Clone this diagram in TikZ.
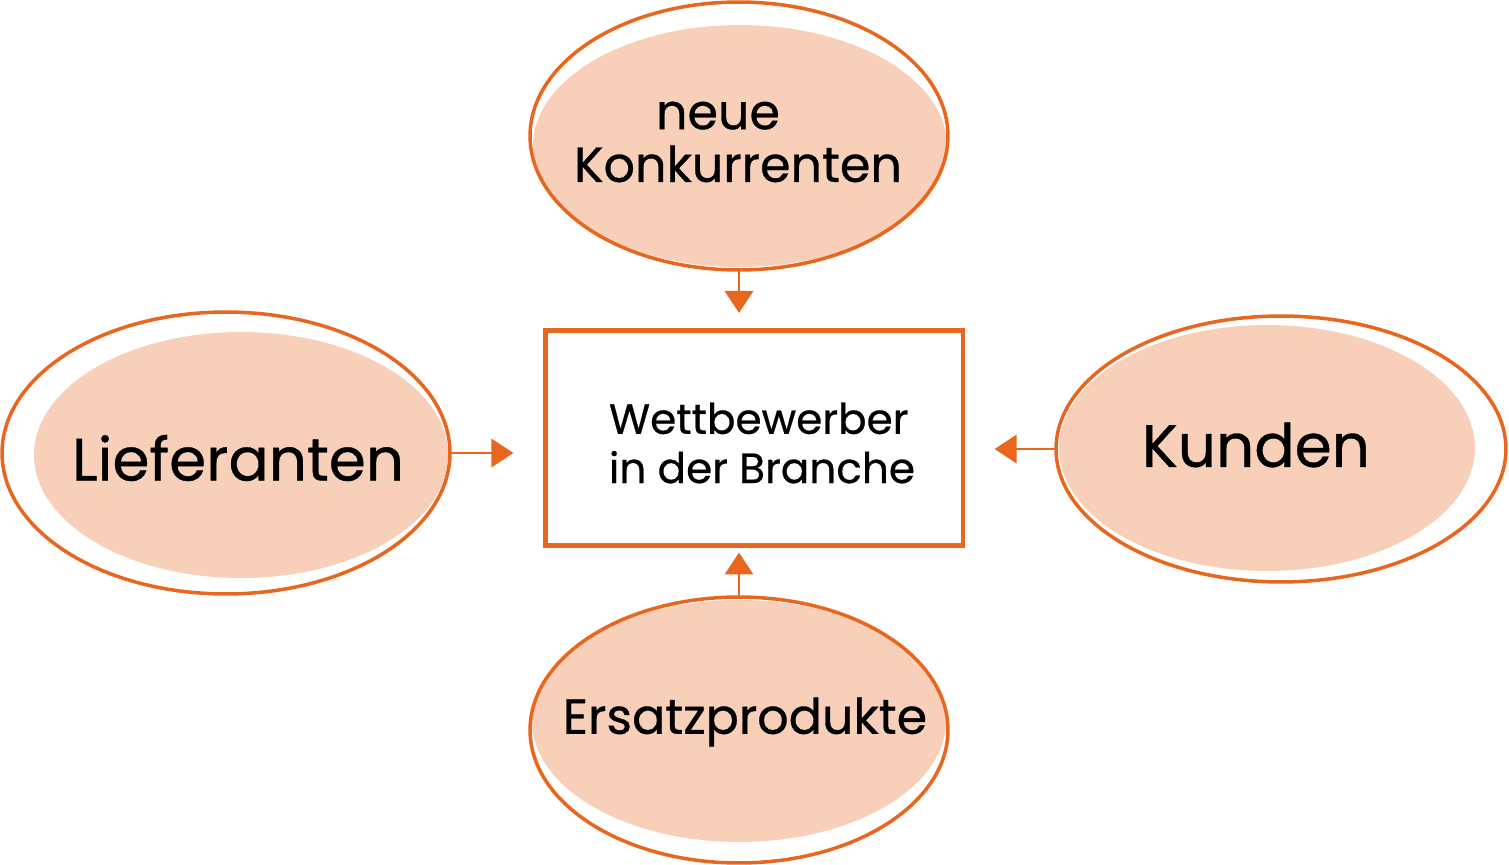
\documentclass[tikz,border=0pt]{standalone}
\usepackage{fontspec}
\setmainfont{Poppins}[FakeBold=0.6]
\usepackage{xcolor}
\usetikzlibrary{arrows.meta,shapes.geometric}
\definecolor{porange}{HTML}{E9661F}
\definecolor{ppeach}{HTML}{F8D0B9}

\begin{document}
\begin{tikzpicture}[x=0.02cm,y=-0.02cm,
  force/.style={ellipse,draw=porange,line width=2pt,inner sep=0pt,outer sep=0pt},
  inner/.style={ellipse,fill=ppeach,inner sep=0pt},
  label/.style={inner sep=0pt,align=center},
  arr/.style={-{Triangle[length=12.5pt,width=16pt]},draw=porange,fill=porange,line width=1.7pt}]
\useasboundingbox (0,0) rectangle (1509,865);
% filled ellipses
\node[inner,minimum width=8.28cm,minimum height=4.84cm] (konkfill) at (740,146) {};
\node[inner,minimum width=8.28cm,minimum height=4.92cm] (lieferfill) at (241,455) {};
\node[inner,minimum width=8.32cm,minimum height=4.92cm] (kundenfill) at (1267,448) {};
\node[inner,minimum width=8.28cm,minimum height=4.84cm] (ersatzfill) at (739,721) {};
% outlines
\node[force,minimum width=8.36cm,minimum height=5.36cm] (konk) at (739,136) {};
\node[force,minimum width=8.96cm,minimum height=5.64cm] (liefer) at (226,453) {};
\node[force,minimum width=9.0cm,minimum height=5.32cm] (kunden) at (1281,449) {};
\node[force,minimum width=8.36cm,minimum height=5.32cm] (ersatz) at (739,730) {};
% texts
\node[label,font=\fontsize{28}{30}\selectfont] (konktext) at (738,142) {neue\hspace*{0.8cm}\\Konkurrenten};
\node[label,font=\fontsize{34}{36}\selectfont] (liefertext) at (238,458) {Lieferanten};
\node[label,font=\fontsize{34}{36}\selectfont] (kundentext) at (1256,445) {Kunden};
\node[label,font=\fontsize{28}{30}\selectfont] (ersatztext) at (745,722) {Ersatzprodukte};
% center box
\node[draw=porange,line width=2.8pt,minimum width=8.36cm,minimum height=4.3cm,outer sep=0pt] (branche) at (754,438) {};
\node[label,align=left,font=\fontsize{24}{28}\selectfont] (branchetext) at (762,443) {Wettbewerber\\in der Branche};
% arrows
\draw[arr,shorten >=10pt] (konk.south) -- (konk.south |- branche.north);
\draw[arr,shorten >=18pt] (liefer.east) -- (liefer.east -| branche.west);
\draw[arr,shorten >=18pt] (kunden.west) -- (kunden.west -| branche.east);
\draw[arr,shorten >=4pt] (ersatz.north) -- (ersatz.north |- branche.south);
\end{tikzpicture}
\end{document}
